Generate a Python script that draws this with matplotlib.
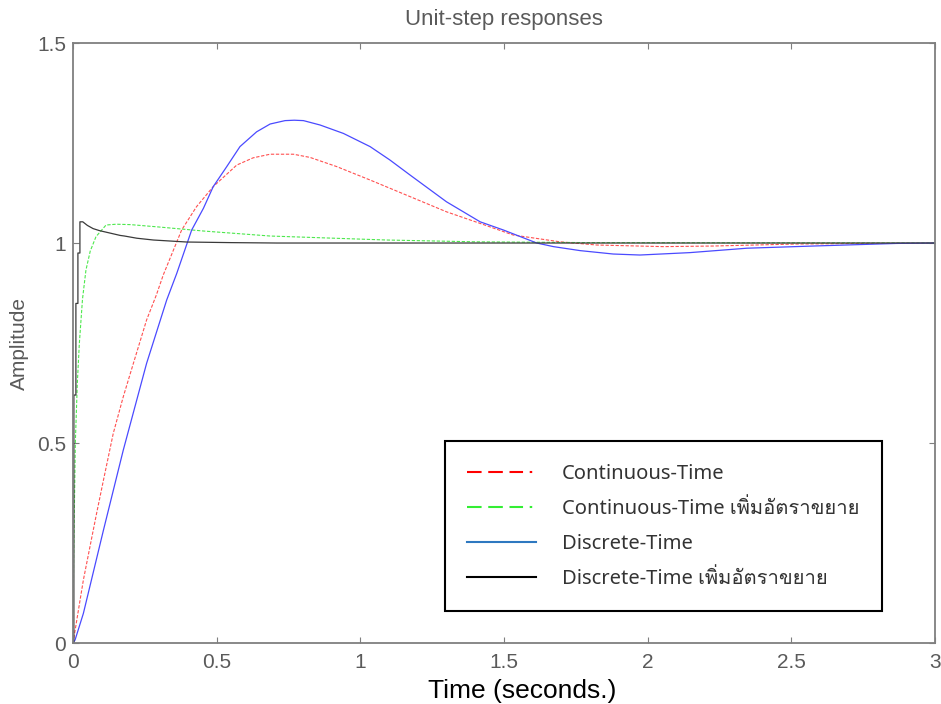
import numpy as np
import matplotlib
matplotlib.use("Agg")
import matplotlib.pyplot as plt
from matplotlib.lines import Line2D
from matplotlib import font_manager, ft2font

# values
t_ct = [0, 0.036, 0.059, 0.082, 0.106, 0.14, 0.175, 0.21, 0.256, 0.29, 0.314, 0.378, 0.43,
        0.488, 0.57, 0.627, 0.686, 0.767, 0.825, 0.918, 1.034, 1.173, 1.30, 1.417,
        1.532, 1.695, 1.823, 2.054, 2.229, 2.519, 2.75, 3.0]
y_ct = [0, 0.1575, 0.241, 0.324, 0.4075, 0.524, 0.616, 0.699, 0.8075, 0.87, 0.92, 1.0325, 1.091,
        1.141, 1.195, 1.213, 1.222, 1.222, 1.214, 1.191, 1.1575, 1.116, 1.078, 1.049,
        1.02, 1.003, 0.995, 0.991, 0.9925, 0.9975, 0.999, 1.0]

t_ct_gain = [0, 0.002, 0.008, 0.015, 0.022, 0.033, 0.045, 0.06, 0.08, 0.115, 0.15, 0.2,
             0.3, 0.454, 0.686, 1.092, 1.4, 1.8, 3.0]
y_ct_gain = [0, 0.2, 0.5, 0.65, 0.749, 0.86, 0.9325, 0.98, 1.016, 1.045, 1.047, 1.046,
             1.04, 1.03, 1.0175, 1.0075, 1.003, 1.001, 1.0]

t_dt = [0, 0.007, 0.036, 0.106, 0.175, 0.256, 0.326, 0.361, 0.413, 0.454, 0.488, 0.535, 0.581,
        0.639, 0.686, 0.738, 0.77, 0.802, 0.86, 0.941, 1.034, 1.103, 1.173, 1.30,
        1.417, 1.498, 1.614, 1.672, 1.765, 1.88, 1.973, 2.147, 2.345, 2.577, 2.867, 3.0]
y_dt = [0, 0.0075, 0.074, 0.2825, 0.4825, 0.699, 0.8575, 0.924, 1.0325, 1.087, 1.141, 1.191, 1.241,
        1.278, 1.2975, 1.306, 1.307, 1.306, 1.295, 1.274, 1.241, 1.2075, 1.17, 1.103,
        1.053, 1.0325, 1.0, 0.991, 0.981, 0.9725, 0.97, 0.976, 0.987, 0.9925, 0.999, 1.0]

t_dt_gain = [0, 0.003, 0.003, 0.010, 0.010, 0.017, 0.017, 0.024, 0.024, 0.034, 0.05, 0.07,
             0.092, 0.164, 0.179, 0.222, 0.28, 0.396, 0.55, 0.709, 3.0]
y_dt_gain = [0, 0, 0.62, 0.62, 0.849, 0.849, 0.975, 0.975, 1.053, 1.053, 1.044, 1.036,
             1.031, 1.019, 1.0175, 1.012, 1.0075, 1.0025, 1.001, 1.0, 1.0]

labels = ["Continuous-Time", "Continuous-Time เพิ่มอัตราขยาย",
          "Discrete-Time", "Discrete-Time เพิ่มอัตราขยาย"]
xticks = [0, 0.5, 1, 1.5, 2, 2.5, 3]
xticklabels = ["0", "0.5", "1", "1.5", "2", "2.5", "3"]
yticks = [0, 0.5, 1, 1.5]
yticklabels = ["0", "0.5", "1", "1.5"]

gray = "#7f7f7f"
txt_gray = "#5a5a5a"

# find installed families that carry Thai glyphs
thai_fams = []
for f in font_manager.fontManager.ttflist:
    try:
        cmap = ft2font.FT2Font(f.fname).get_charmap()
    except Exception:
        continue
    if 0x0E1E in cmap and 0x0E34 in cmap and f.name not in thai_fams:
        thai_fams.append(f.name)
legend_fonts = ["Noto Sans"] + thai_fams + ["DejaVu Sans"]

fig = plt.figure(figsize=(9.41, 7.04), dpi=100)
ax = fig.add_axes([0.0776, 0.0866, 0.9160, 0.8523])

ax.plot(t_ct, y_ct, color="#ff5050", lw=0.8, ls=(0, (3, 1.5)))
ax.plot(t_ct_gain, y_ct_gain, color="#4de84d", lw=0.8, ls=(0, (3, 1.5)))
ax.plot(t_dt, y_dt, color="#4a4aff", lw=0.9)
ax.plot(t_dt_gain, y_dt_gain, color="#3a3a3a", lw=0.9)

ax.set_xlim(0, 3)
ax.set_ylim(0, 1.5)
ax.set_xticks(xticks)
ax.set_xticklabels(xticklabels)
ax.set_yticks(yticks)
ax.set_yticklabels(yticklabels)
ax.tick_params(direction="in", length=4.5, width=0.8, color=gray, labelcolor=txt_gray,
               labelsize=15, top=True, right=True)
ax.tick_params(axis="x", pad=7)
ax.tick_params(axis="y", pad=5)
for lab in ax.get_xticklabels() + ax.get_yticklabels():
    lab.set_family("Liberation Sans")
for s in ax.spines.values():
    s.set_color(gray)
    s.set_linewidth(1.3)

ax.set_title("Unit-step responses", family="Liberation Sans", fontsize=16,
             color=txt_gray, pad=13)
ax.set_xlabel("Time (seconds.)", family="Liberation Sans", fontsize=19,
              color="black")
ax.xaxis.set_label_coords(0.521, -0.06)
ax.set_ylabel("Amplitude", family="Liberation Sans", fontsize=15,
              color=txt_gray, labelpad=6)

dash_dot = (0, (7, 3.2, 7, 3.2, 6.5, 3.2, 1.2, 10))
handles = [
    Line2D([], [], color="#ff0000", lw=1.5, ls=dash_dot),
    Line2D([], [], color="#33ee33", lw=1.5, ls=dash_dot),
    Line2D([], [], color="#2e78c0", lw=1.5),
    Line2D([], [], color="#000000", lw=1.5),
]
leg = ax.legend(handles, labels, loc="lower left", bbox_to_anchor=(0.4316, 0.0533),
                prop={"family": legend_fonts, "size": 14.5}, frameon=True, fancybox=False,
                handlelength=3.4, handletextpad=1.3, borderpad=1.1, labelspacing=0.75,
                borderaxespad=0)
leg.get_frame().set_edgecolor("black")
leg.get_frame().set_linewidth(1.5)
leg.get_frame().set_alpha(1)
for txt in leg.get_texts():
    txt.set_color("#333333")

fig.savefig("out.png", dpi=100)
